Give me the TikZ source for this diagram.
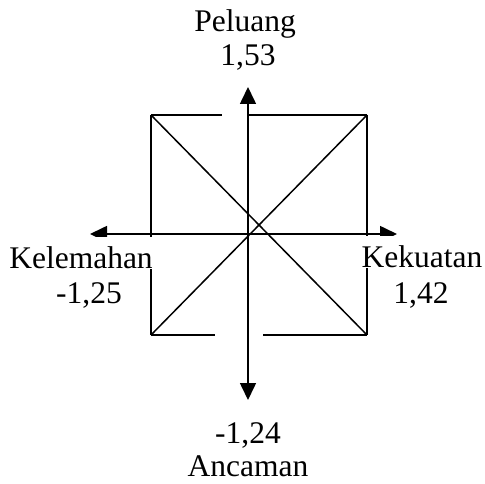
\documentclass[tikz,border=0pt]{standalone}
\usepackage{fontspec}
\setmainfont{Liberation Serif}
\usetikzlibrary{arrows.meta}

\begin{document}
\begin{tikzpicture}[x=1pt,y=-1pt,
  axis/.style={line width=1.6pt,{Triangle[length=17pt,width=16pt]}-{Triangle[length=17pt,width=16pt]}},
  edge/.style={line width=1.5pt},
  lbl/.style={font=\fontsize{31.5}{35}\selectfont,anchor=base,inner sep=0pt},
  cover/.style={lbl,fill=white,text height=31pt,text depth=1pt,inner xsep=1pt}]
\useasboundingbox (0,0) rectangle (485,484);
% axis ends and box corners
\coordinate (n) at (248,87);
\coordinate (s) at (248,400);
\coordinate (w) at (90,234);
\coordinate (e) at (397,234);
\coordinate (tl) at (151,115);
\coordinate (tr) at (367,115);
\coordinate (bl) at (151,335);
\coordinate (br) at (367,335);
\coordinate (tlend) at (222,115);
\coordinate (trend) at (248,115);
\coordinate (blend) at (215,335);
\coordinate (brend) at (263,335);
% box
\draw[edge] (tl) -- (tlend);
\draw[edge] (trend) -- (tr);
\draw[edge] (bl) -- (blend);
\draw[edge] (brend) -- (br);
\draw[edge] (tl) -- (bl);
\draw[edge] (tr) -- (br);
\draw[edge] (tl) -- (br);
\draw[edge] (bl) -- (tr);
% axes
\draw[axis] (n) -- (s);
\draw[axis] (w) -- (e);
% labels
\node[lbl] (peluang) at (245,32) {Peluang};
\node[lbl] (peluangval) at (248,66) {1,53};
\node[lbl] (ancamanval) at (248,443) {-1,24};
\node[lbl] (ancaman) at (248,476) {Ancaman};
\node[cover] (kelemahan) at (81,268) {Kelemahan};
\node[lbl] (kelemahanval) at (89,303) {-1,25};
\node[cover] (kekuatan) at (422,267) {Kekuatan};
\node[lbl] (kekuatanval) at (421,303) {1,42};
\end{tikzpicture}
\end{document}
